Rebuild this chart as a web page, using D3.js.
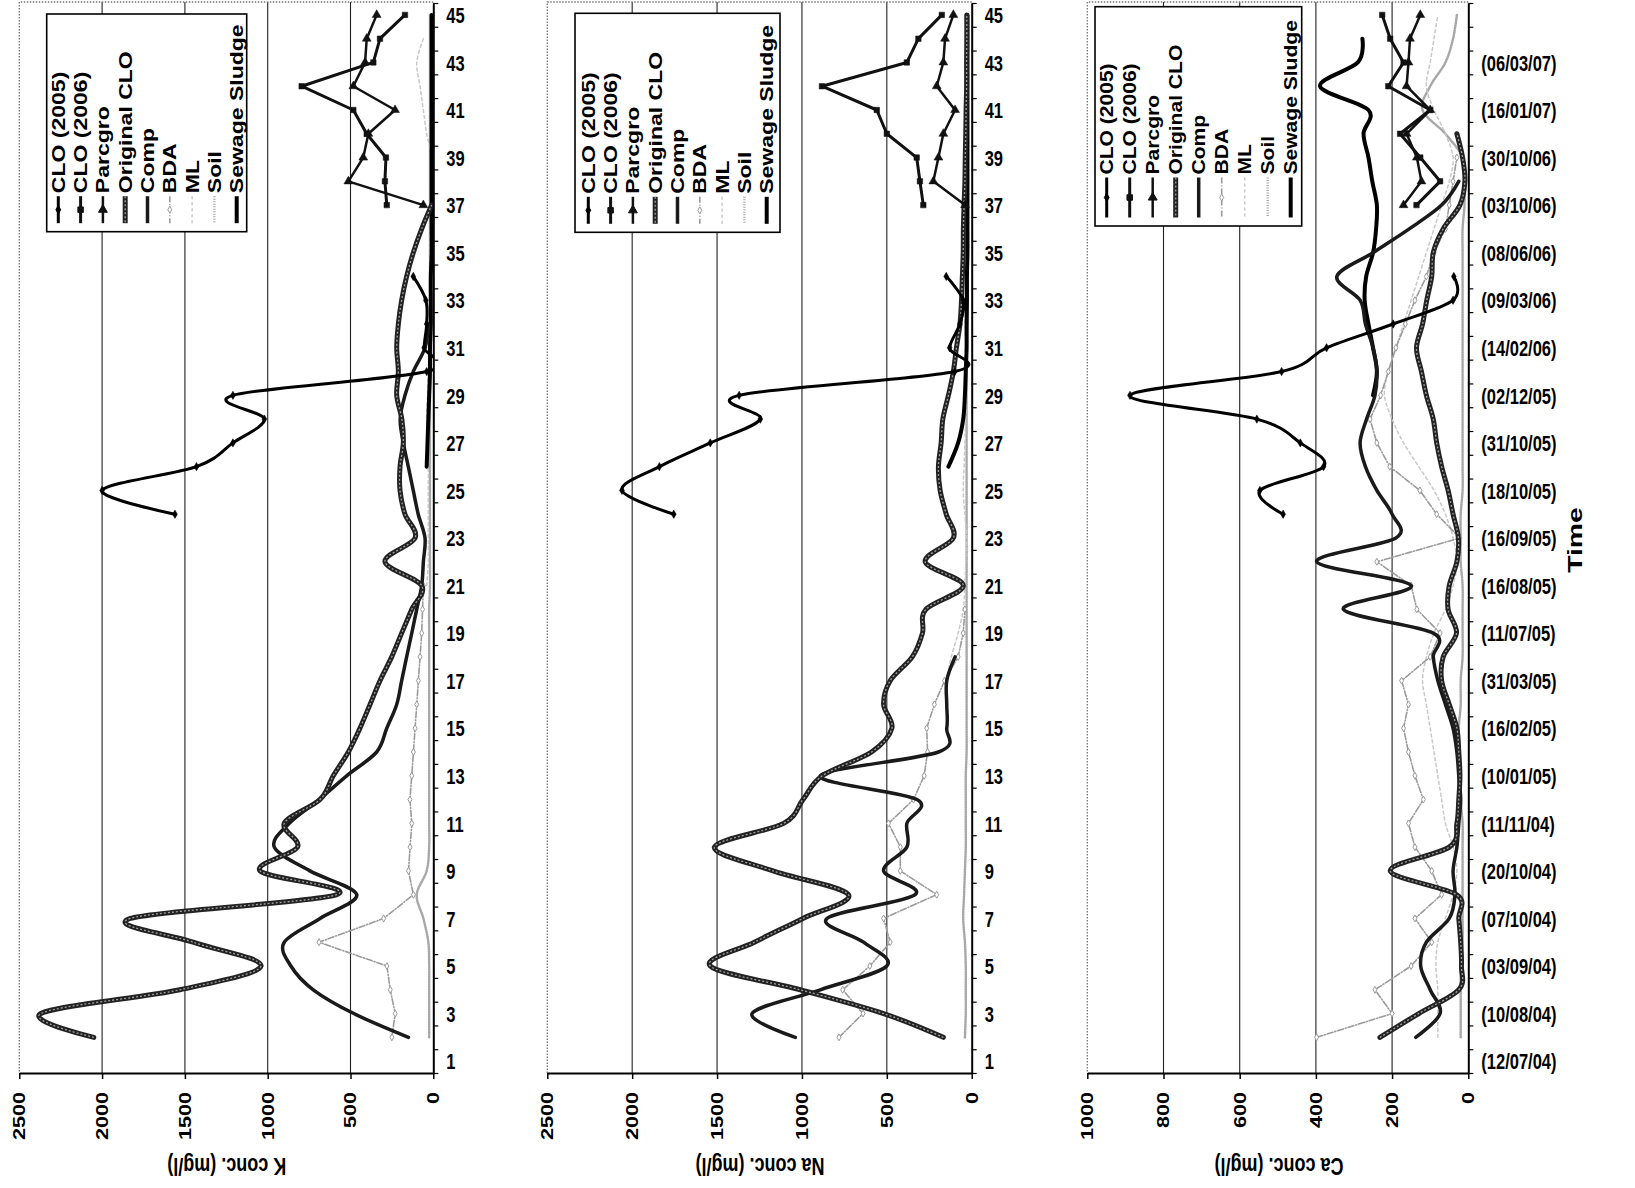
<!DOCTYPE html>
<html>
<head>
<meta charset="utf-8">
<script src="https://cdn.jsdelivr.net/npm/d3@7"></script>
<style>
body { margin: 0; background: #fff; }
text { font-family: "Liberation Sans", Arial, sans-serif; font-weight: bold; fill: #000; }
</style>
</head>
<body>
<svg id="chart"></svg>
<script>
// DATA ------------------------------------**
const seriesNames = ['CLO (2005)', 'CLO (2006)', 'Parcgro', 'Original CLO', 'Comp', 'BDA', 'ML', 'Soil', 'Sewage Sludge'];

const oddTimes = [1, 3, 5, 7, 9, 11, 13, 15, 17, 19, 21, 23, 25, 27, 29, 31, 33, 35, 37, 39, 41, 43, 45];
const dateTimes = [1, 3, 5, 7, 9, 11, 13, 15, 17, 19, 21, 23, 25, 27, 29, 31, 33, 35, 37, 39, 41, 43];
const dateLabels = ['(12/07/04)', '(10/08/04)', '(03/09/04)', '(07/10/04)', '(20/10/04)', '(11/11/04)',
    '(10/01/05)', '(16/02/05)', '(31/03/05)', '(11/07/05)', '(16/08/05)', '(16/09/05)', '(18/10/05)',
    '(31/10/05)', '(02/12/05)', '(14/02/06)', '(09/03/06)', '(08/06/06)', '(03/10/06)', '(30/10/06)',
    '(16/01/07)', '(06/03/07)'];

const kTicks = [0, 500, 1000, 1500, 2000, 2500];
const naTicks = [0, 500, 1000, 1500, 2000, 2500];
const caTicks = [0, 200, 400, 600, 800, 1000];

// K (first sample time of every series in kFirst)
const kFirst = [24, 37, 37, 2, 2, 2, 21, 2, 26];
const kCLO2005 = [1560, 2000, 1430, 1210, 1020, 1210, 40, 55, 40, 45, 121];
const kCLO2006 = [281, 292, 286, 402, 483, 795, 362, 322, 171];
const kParcgro = [60, 513, 423, 392, 231, 483, 412, 402, 342];
const kOriginalCLO = [2050, 2370, 1530, 1040, 1450, 1830, 583, 1046, 820, 900,
    684, 604, 513, 443, 382, 322, 251, 191, 130, 70,
    292, 110, 171, 201, 201, 181, 190, 221, 211, 221,
    211, 191, 161, 121, 70, 10];
const kComp = [150, 480, 725, 860, 900, 684, 462, 745, 960, 870,
    690, 523, 342, 281, 221, 191, 161, 130, 100, 70,
    60, 50, 91, 121, 151, 181, 200, 171, 121, 50, 30];
const kBDA = [250, 230, 260, 280, 690, 300, 120, 150, 140, 130,
    141, 130, 120, 110, 100, 90, 80, 70, 65, 60];
const kML = [40, 30, 30, 30, 30, 30, 35, 40, 35, 30, 25, 20, 20, 20, 20, 20, 15, 15, 10, 40, 60, 80, 100, 60];
const kSoil = [25, 25, 25, 25, 30, 60, 100, 40, 25, 25, 25, 25, 25, 25, 25, 25, 25, 25, 25, 20,
    20, 20, 20, 20, 20, 20, 20, 20, 20, 20, 20, 20, 20, 20, 20, 20, 20, 20, 20, 20, 20, 20, 20, 20];
const kSludge = [40, 35, 30, 25, 20, 20, 15, 15, 15, 10, 10, 10, 10, 10, 10, 10, 10, 10, 10, 10];

// Na
const naFirst = [24, 37, 37, 2, 2, 2, 17, 2, 26];
const naCLO2005 = [1755, 2060, 1840, 1540, 1245, 1370, 100, 130, 70, 50, 150];
const naCLO2006 = [285, 305, 324, 500, 559, 882, 382, 314, 176];
const naParcgro = [39, 226, 196, 167, 98, 206, 167, 157, 108];
const naOriginalCLO = [167, 519, 1010, 1540, 1280, 994, 726, 1170, 1516, 1108,
    994, 880, 590, 470, 519, 480, 350, 290, 270, 49,
    274, 108, 150, 186, 196, 180, 170, 137, 108, 90,
    69, 60, 55, 50, 49, 45, 40, 38, 35, 33, 30, 30, 29, 29];
const naComp = [1039, 1294, 892, 500, 637, 853, 333, 519, 382, 382, 323, 892, 196, 147, 147, 147, 98];
const naBDA = [782, 640, 760, 600, 480, 519, 206, 421, 420, 490, 343, 280, 260, 265, 220, 160, 80, 50, 40];
const naML = [150, 120, 80, 50, 40, 35, 30, 40, 50, 45, 40, 35, 30, 30, 35, 40, 35, 30, 25, 25,
    20, 20, 20, 20, 20, 20, 20, 20, 20];
const naSoil = [40, 35, 35, 35, 40, 50, 45, 40, 35, 35, 35, 35, 30, 30, 30, 30, 30, 30, 30, 30,
    30, 30, 30, 30, 30, 30, 30, 30, 30, 30, 25, 25, 25, 25, 25, 25, 25, 25, 25, 25, 25, 25, 25, 25];
const naSludge = [137, 80, 50, 40, 35, 30, 30, 28, 28, 25, 25, 25, 25, 25, 25, 25, 25, 25, 25, 25];

// Ca
const caFirst = [24, 37, 37, 2, 2, 2, 2, 2, 29];
const caCLO2005 = [486, 547, 380, 441, 555, 888, 490, 372, 197, 40, 38];
const caCLO2006 = [136, 74, 126, 179, 100, 210, 170, 205, 226];
const caParcgro = [170, 123, 135, 162, 100, 162, 157, 153, 126];
const caOriginalCLO = [232, 130, 25, 18, 20, 25, 31, 205, 50, 30,
    25, 22, 25, 30, 50, 70, 66, 31, 53, 50,
    30, 26, 40, 53, 70, 83, 92, 110, 123, 136,
    120, 109, 96, 92, 66, 22, 9, 15, 30];
const caComp = [138, 74, 100, 125, 110, 50, 35, 40, 30, 25,
    20, 25, 30, 40, 60, 80, 92, 92, 328, 150,
    398, 190, 200, 240, 270, 284, 267, 245, 240, 250,
    270, 284, 345, 250, 155, 70, 25];
const caBDA = [398, 200, 245, 150, 96, 140, 70, 96, 140, 157,
    118, 140, 157, 170, 157, 175, 100, 74, 135,
    150, 240, 22, 83, 127, 206, 240, 258, 230, 210,
    190, 165, 140, 110, 90, 60, 50, 40, 30];
const caML = [80, 80, 80, 85, 80, 60, 40, 30, 40, 60, 70, 80, 90, 100, 110, 120, 110, 90, 60, 40,
    30, 40, 60, 90, 130, 170, 200, 220, 210, 190, 170, 150, 130, 110, 90, 70, 50, 40, 60, 90,
    110, 100, 90, 80];
const caSoil = [20, 20, 20, 20, 15, 15, 15, 15, 15, 15, 20, 20, 25, 25, 20, 20, 15, 15, 15, 15,
    20, 20, 20, 15, 15, 15, 15, 15, 15, 15, 15, 15, 15, 15, 15, 10, 10, 15, 60, 120,
    100, 60, 40, 30];
const caSludge = [250, 240, 250, 262, 272, 268, 250, 242, 240, 252, 262, 275, 262, 389, 290, 278];

// STYLES ----------------------------------**
const styles = [
    {stroke: '#000', width: 3, marker: d3.symbolDiamond, msize: 20, smooth: true},
    {stroke: '#111', width: 3, marker: d3.symbolSquare, msize: 30, smooth: false},
    {stroke: '#111', width: 2.5, marker: d3.symbolTriangle, msize: 34, smooth: false},
    {stroke: '#222', width: 5, inner: '#a0a0a0', smooth: true},
    {stroke: '#1a1a1a', width: 3.5, smooth: true},
    {stroke: '#9a9a9a', width: 1.6, dash: '6,2,1,2', marker: d3.symbolDiamond, msize: 14, open: true, smooth: false},
    {stroke: '#c8c8c8', width: 1.5, dash: '3,3', smooth: true},
    {stroke: '#a8a8a8', width: 2.5, dash: '1,1.5', smooth: true},
    {stroke: '#000', width: 4, smooth: true}
];
const drawOrder = [7, 6, 5, 8, 4, 3, 0, 1, 2];

const panels = [
    {left: 19.3, right: 433.3, ticks: kTicks, title: 'K conc. (mg/l)', titleX: 226.7,
     series: [kCLO2005, kCLO2006, kParcgro, kOriginalCLO, kComp, kBDA, kML, kSoil, kSludge], first: kFirst,
     timeTicks: oddTimes, timeLabels: oddTimes.map(String),
     legend: {x: 46.7, y: 14, w: 200, h: 217.7, x0: 58.3, dx: 22.3, keyLen: 27, stretch: 1.28}},
    {left: 547.3, right: 971.7, ticks: naTicks, title: 'Na conc. (mg/l)', titleX: 760,
     series: [naCLO2005, naCLO2006, naParcgro, naOriginalCLO, naComp, naBDA, naML, naSoil, naSludge], first: naFirst,
     timeTicks: oddTimes, timeLabels: oddTimes.map(String),
     legend: {x: 575, y: 13.3, w: 205, h: 219, x0: 588.3, dx: 22.3, keyLen: 27, stretch: 1.28}},
    {left: 1087.3, right: 1468.3, ticks: caTicks, title: 'Ca conc. (mg/l)', titleX: 1279,
     series: [caCLO2005, caCLO2006, caParcgro, caOriginalCLO, caComp, caBDA, caML, caSoil, caSludge], first: caFirst,
     timeTicks: dateTimes, timeLabels: dateLabels,
     legend: {x: 1095, y: 6.7, w: 206.7, h: 219.3, x0: 1106.7, dx: 23, keyLen: 40, stretch: 1.17}}
];

// CHART -----------------------------------**
const W = 1635, H = 1188;
const plotTop = 2, plotBottom = 1073;

const svg = d3.select('#chart').attr('width', W).attr('height', H);

const yScale = d3.scaleLinear().domain([0.5, 45.5]).range([plotBottom, plotTop + 1]);
const boundaries = d3.range(0.5, 46, 1);

panels.forEach(function(p, pi) {
    const max = p.ticks[p.ticks.length - 1];
    const xScale = d3.scaleLinear().domain([0, max]).range([p.right, p.left]);
    const g = svg.append('g');

    // grid + border
    g.selectAll('.grid')
        .data(p.ticks.filter(d => d > 0 && d < max))
        .enter().append('line')
        .attr('x1', d => xScale(d)).attr('x2', d => xScale(d))
        .attr('y1', plotTop).attr('y2', plotBottom)
        .attr('stroke', '#222').attr('stroke-width', 1.1);
    g.append('path')
        .attr('d', `M${p.right},${plotTop}H${p.left}V${plotBottom}`)
        .attr('fill', 'none').attr('stroke', '#777').attr('stroke-width', 1.3)
        .attr('stroke-dasharray', '1.5,1.5');

    // clip
    const clipId = 'clip' + pi;
    svg.append('clipPath').attr('id', clipId).append('rect')
        .attr('x', p.left).attr('y', plotTop).attr('width', p.right - p.left).attr('height', plotBottom - plotTop);
    const plot = g.append('g').attr('clip-path', `url(#${clipId})`);

    drawOrder.forEach(function(si) {
        const st = styles[si];
        const pts = p.series[si].map((v, i) => ({t: p.first[si] + i, v: v}));
        const line = d3.line()
            .x(d => xScale(d.v)).y(d => yScale(d.t))
            .curve(st.smooth ? d3.curveCatmullRom.alpha(0) : d3.curveLinear);
        plot.append('path')
            .attr('d', line(pts))
            .attr('fill', 'none')
            .attr('stroke', st.stroke)
            .attr('stroke-width', st.width)
            .attr('stroke-linejoin', 'round')
            .attr('stroke-linecap', 'round')
            .attr('stroke-dasharray', st.dash || null);
        if (st.inner) {
            plot.append('path')
                .attr('d', line(pts))
                .attr('fill', 'none')
                .attr('stroke', st.inner)
                .attr('stroke-width', 1.3)
                .attr('stroke-dasharray', '2,2');
        }
        if (st.marker) {
            plot.selectAll(null).data(pts).enter().append('path')
                .attr('d', d3.symbol(st.marker, st.msize))
                .attr('transform', d => `translate(${xScale(d.v)},${yScale(d.t)})`)
                .attr('fill', st.open ? '#fff' : st.stroke)
                .attr('stroke', st.stroke)
                .attr('stroke-width', st.open ? 1 : 0.5);
        }
    });

    // value axis (bottom)
    const xAxisG = g.append('g')
        .attr('transform', `translate(0,${plotBottom})`)
        .call(d3.axisBottom(xScale).tickValues(p.ticks).tickFormat(d3.format('d'))
            .tickSize(6).tickSizeOuter(0));
    xAxisG.select('.domain').attr('stroke', '#000').attr('stroke-width', 2);
    xAxisG.selectAll('.tick line').attr('stroke', '#000').attr('stroke-width', 1.5);
    xAxisG.selectAll('.tick text')
        .attr('x', 0).attr('y', 0).attr('dy', null)
        .attr('text-anchor', 'end')
        .attr('dominant-baseline', 'central')
        .attr('transform', 'translate(0,19) scale(1,1.35) rotate(-90)')
        .style('font-size', '16px')
        .style('font-family', '"Liberation Sans", Arial, sans-serif')
        .style('font-weight', 'bold');

    // time axis (right)
    const tAxisG = g.append('g')
        .attr('transform', `translate(${p.right},0)`)
        .call(d3.axisRight(yScale).tickValues(boundaries).tickSize(5).tickSizeOuter(0).tickFormat(''));
    tAxisG.select('.domain').attr('stroke', '#000').attr('stroke-width', 2);
    tAxisG.selectAll('.tick line').attr('stroke', '#000').attr('stroke-width', 1.2);

    const labAxisG = g.append('g')
        .attr('transform', `translate(${p.right},0)`)
        .call(d3.axisRight(yScale).tickValues(p.timeTicks).tickSize(0)
            .tickFormat((d, i) => p.timeLabels[i]));
    labAxisG.select('.domain').remove();
    labAxisG.selectAll('.tick text')
        .attr('x', 0).attr('dy', '0.36em')
        .attr('text-anchor', 'start')
        .attr('transform', 'translate(13,0) scale(1,1.3)')
        .style('font-size', '16.5px')
        .style('font-family', '"Liberation Sans", Arial, sans-serif')
        .style('font-weight', 'bold');

    // axis title (upside down)
    g.append('text')
        .attr('text-anchor', 'middle')
        .attr('dominant-baseline', 'central')
        .attr('transform', `translate(${p.titleX},1166) scale(1,1.35) rotate(180)`)
        .style('font-size', '18px')
        .text(p.title);

    // legend
    const lg = p.legend;
    const leg = g.append('g');
    leg.append('rect')
        .attr('x', lg.x).attr('y', lg.y).attr('width', lg.w).attr('height', lg.h)
        .attr('fill', '#fff').attr('stroke', '#000').attr('stroke-width', 1.6);
    const keyBottom = lg.y + lg.h - 8.5;
    const keyTop = keyBottom - lg.keyLen;
    seriesNames.forEach(function(name, si) {
        const st = styles[si];
        const x = lg.x0 + si * lg.dx;
        leg.append('line')
            .attr('x1', x).attr('x2', x).attr('y1', keyTop).attr('y2', keyBottom)
            .attr('stroke', st.stroke).attr('stroke-width', st.width)
            .attr('stroke-dasharray', st.dash || null);
        if (st.inner) {
            leg.append('line')
                .attr('x1', x).attr('x2', x).attr('y1', keyTop).attr('y2', keyBottom)
                .attr('stroke', st.inner).attr('stroke-width', 1.3).attr('stroke-dasharray', '2,2');
        }
        if (st.marker) {
            leg.append('path')
                .attr('d', d3.symbol(st.marker, st.msize))
                .attr('transform', `translate(${x},${(keyTop + keyBottom) / 2})`)
                .attr('fill', st.open ? '#fff' : st.stroke)
                .attr('stroke', st.stroke).attr('stroke-width', 1);
        }
        leg.append('text')
            .attr('text-anchor', 'start')
            .attr('dominant-baseline', 'central')
            .attr('transform', `translate(${x},${keyTop - 3}) scale(1,${lg.stretch}) rotate(-90)`)
            .style('font-size', '18px')
            .text(name);
    });
});

// Time label
svg.append('text')
    .attr('text-anchor', 'middle')
    .attr('dominant-baseline', 'central')
    .attr('transform', 'translate(1574,540) scale(1,1.35) rotate(-90)')
    .style('font-size', '21px')
    .text('Time');
</script>
</body>
</html>
